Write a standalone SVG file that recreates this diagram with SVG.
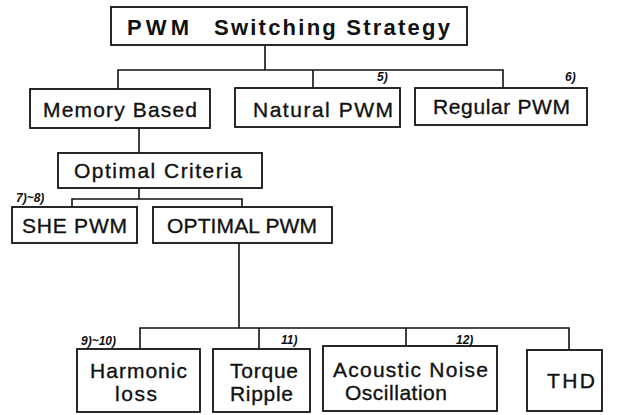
<svg xmlns="http://www.w3.org/2000/svg" width="617" height="415" viewBox="0 0 617 415">
<style>
.box{fill:#fff;stroke:#111;stroke-width:1.8}
.t{font-family:"Liberation Sans",Arial,sans-serif;font-size:21px;fill:#111;stroke:#111;stroke-width:0.35}
.ti{font-family:"Liberation Sans",Arial,sans-serif;font-size:22px;font-weight:bold;fill:#111}
.ref{font-family:"Liberation Sans",Arial,sans-serif;font-size:12px;font-weight:bold;font-style:italic;fill:#111}
.c{fill:none;stroke:#111;stroke-width:1.6}
</style>
<rect width="617" height="415" fill="#fff"/>
<g id="connectors">
<path class="c" d="M265 45V70M118 89V70H503V88M313 70V88"/>
<path class="c" d="M139 128V153"/>
<path class="c" d="M139 188V199M72 207V199H242V207"/>
<path class="c" d="M239 243V328M140 349V328H569V350M259 328V349M406 328V346"/>
</g>
<g id="title">
<rect class="box" x="111" y="7" width="356" height="38"/>
<text class="ti" x="127" y="35" textLength="62" lengthAdjust="spacing">PWM</text>
<text class="ti" x="214" y="35" textLength="236" lengthAdjust="spacing">Switching  Strategy</text>
</g>
<g id="memory">
<rect class="box" x="30" y="89" width="180" height="39"/>
<text class="t" x="43" y="117" textLength="154" lengthAdjust="spacing">Memory Based</text>
</g>
<g id="natural">
<rect class="box" x="235" y="88" width="165" height="39"/>
<text class="t" x="253" y="117" textLength="140" lengthAdjust="spacing">Natural PWM</text>
<text class="ref" x="377" y="81">5)</text>
</g>
<g id="regular">
<rect class="box" x="415" y="88" width="172" height="37"/>
<text class="t" x="433" y="114" textLength="137" lengthAdjust="spacing">Regular PWM</text>
<text class="ref" x="565" y="81">6)</text>
</g>
<g id="optcrit">
<rect class="box" x="58" y="153" width="204" height="35"/>
<text class="t" x="74" y="178" textLength="168" lengthAdjust="spacing">Optimal Criteria</text>
</g>
<g id="she">
<rect class="box" x="12" y="207" width="125" height="36"/>
<text class="t" x="22" y="233" textLength="105" lengthAdjust="spacing">SHE PWM</text>
<text class="ref" x="16" y="202">7)~8)</text>
</g>
<g id="optpwm">
<rect class="box" x="153" y="207" width="179" height="36"/>
<text class="t" x="167" y="233" textLength="150" lengthAdjust="spacing">OPTIMAL PWM</text>
</g>
<g id="harmonic">
<rect class="box" x="77" y="349" width="123" height="63"/>
<text class="t" x="90" y="378" textLength="97" lengthAdjust="spacing">Harmonic</text>
<text class="t" x="115" y="401" textLength="42" lengthAdjust="spacing">loss</text>
<text class="ref" x="81" y="345">9)~10)</text>
</g>
<g id="torque">
<rect class="box" x="213" y="349" width="97" height="63"/>
<text class="t" x="230" y="378" textLength="68" lengthAdjust="spacing">Torque</text>
<text class="t" x="230" y="401" textLength="63" lengthAdjust="spacing">Ripple</text>
<text class="ref" x="281" y="344">11)</text>
</g>
<g id="acoustic">
<rect class="box" x="323" y="346" width="174" height="65"/>
<text class="t" x="333" y="377" textLength="155" lengthAdjust="spacing">Acoustic Noise</text>
<text class="t" x="345" y="400" textLength="102" lengthAdjust="spacing">Oscillation</text>
<text class="ref" x="456" y="344">12)</text>
</g>
<g id="thd">
<rect class="box" x="527" y="350" width="75" height="61"/>
<text class="t" x="547" y="388" textLength="48" lengthAdjust="spacing">THD</text>
</g>
</svg>
